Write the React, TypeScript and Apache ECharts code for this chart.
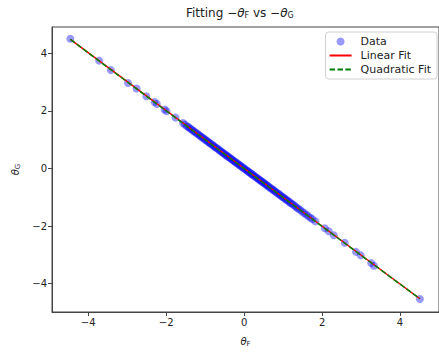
import React, { useEffect, useRef } from "react";
import * as echarts from "echarts";

const dataPoints: [number, number][] = [
  [-4.46, 4.51], [-3.72, 3.75], [-3.42, 3.42], [-2.98, 2.97], [-2.76, 2.78],
  [-2.51, 2.51], [-2.30, 2.31], [-2.24, 2.24], [-2.04, 2.05], [-1.99, 1.99],
  [-1.76, 1.77], [-1.57, 1.58],
  [-1.52, 1.53], [-1.47, 1.47], [-1.43, 1.44], [-1.40, 1.40], [-1.36, 1.37],
  [-1.33, 1.33], [-1.29, 1.30], [-1.26, 1.26], [-1.22, 1.23], [-1.19, 1.19],
  [-1.15, 1.16], [-1.12, 1.12], [-1.09, 1.09], [-1.05, 1.06], [-1.02, 1.02],
  [-0.99, 0.99], [-0.95, 0.96], [-0.92, 0.92], [-0.89, 0.89], [-0.86, 0.86],
  [-0.82, 0.83], [-0.79, 0.79], [-0.76, 0.76], [-0.73, 0.73], [-0.70, 0.70],
  [-0.66, 0.67], [-0.63, 0.63], [-0.60, 0.60], [-0.57, 0.57], [-0.54, 0.54],
  [-0.51, 0.51], [-0.48, 0.48], [-0.45, 0.45], [-0.42, 0.42], [-0.39, 0.39],
  [-0.36, 0.36], [-0.33, 0.33], [-0.30, 0.30], [-0.27, 0.27], [-0.24, 0.24],
  [-0.21, 0.21], [-0.18, 0.18], [-0.15, 0.15], [-0.12, 0.12], [-0.09, 0.09],
  [-0.06, 0.06], [-0.03, 0.03], [0.00, 0.00], [0.03, -0.03], [0.06, -0.06],
  [0.09, -0.09], [0.12, -0.12], [0.15, -0.15], [0.18, -0.18], [0.21, -0.21],
  [0.24, -0.24], [0.27, -0.27], [0.30, -0.30], [0.33, -0.33], [0.36, -0.36],
  [0.39, -0.39], [0.42, -0.42], [0.45, -0.45], [0.48, -0.48], [0.51, -0.51],
  [0.54, -0.54], [0.57, -0.57], [0.60, -0.60], [0.63, -0.63], [0.66, -0.67],
  [0.70, -0.70], [0.73, -0.73], [0.76, -0.76], [0.79, -0.79], [0.82, -0.83],
  [0.86, -0.86], [0.89, -0.89], [0.92, -0.92], [0.95, -0.96], [0.99, -0.99],
  [1.02, -1.02], [1.05, -1.06], [1.09, -1.09], [1.12, -1.12], [1.16, -1.16],
  [1.19, -1.20], [1.23, -1.23], [1.27, -1.27], [1.31, -1.31], [1.35, -1.36],
  [1.39, -1.40], [1.44, -1.44], [1.49, -1.50], [1.54, -1.55], [1.59, -1.60],
  [1.64, -1.65], [1.70, -1.71], [1.75, -1.76],
  [1.83, -1.84], [2.07, -2.08], [2.17, -2.18], [2.30, -2.32], [2.58, -2.58],
  [2.87, -2.90], [2.99, -3.02], [3.26, -3.29], [3.33, -3.38], [4.51, -4.54],
];

const linearFitX = [-4.46, 4.51];
const linearFitY = [4.49, -4.53];
const quadFitX = [-4.46, -3.0, -1.5, 0.0, 1.5, 3.0, 4.51];
const quadFitY = [4.49, 3.01, 1.5, -0.005, -1.51, -3.02, -4.53];

const xTicks = [-4, -2, 0, 2, 4];
const yTicks = [-4, -2, 0, 2, 4];

const FONT = "DejaVu Sans";
const fmt = (v: number) => (v < 0 ? "\u2212" + Math.abs(v) : String(v));

const mathRich = (size: number) => ({
  n: { fontSize: size, fontFamily: FONT, color: "#222", lineHeight: size + 4 },
  i: { fontSize: size, fontFamily: FONT, fontStyle: "italic", color: "#222", lineHeight: size + 4 },
  s: { fontSize: Math.round(size * 0.7), fontFamily: FONT, color: "#222", lineHeight: size + 4, padding: [Math.round(size * 0.45), 0, 0, 0] },
});

export default function App() {
  const ref = useRef<HTMLDivElement>(null);
  useEffect(() => {
    document.body.style.margin = "0";
    const chart = echarts.init(ref.current!, null, { renderer: "svg" });
    const axisCommon = {
      type: "value" as const,
      axisLine: { show: true, onZero: false, lineStyle: { color: "#444", width: 1 } },
      axisTick: { show: true, inside: false, length: 4, lineStyle: { color: "#444" } },
      splitLine: { show: false },
      axisLabel: { fontFamily: FONT, fontSize: 10, color: "#222", formatter: fmt, margin: 5 },
    };
    const hiddenSymbol = { color: "rgba(0,0,0,0)", borderWidth: 0, opacity: 0 };
    chart.setOption({
      animation: false,
      backgroundColor: "#fff",
      title: {
        text: "{n|Fitting \u2212}{i|\u03b8}{s|F}{n| vs \u2212}{i|\u03b8}{s|G}",
        left: 186,
        top: 5,
        padding: 0,
        textStyle: { fontSize: 12, fontWeight: "normal", rich: mathRich(12) },
      },
      legend: {
        orient: "vertical",
        right: 2,
        top: 32,
        padding: [4, 6, 4, 3],
        itemGap: 3,
        itemWidth: 22,
        itemHeight: 8,
        borderColor: "#d0d0d0",
        borderWidth: 1,
        borderRadius: 3,
        backgroundColor: "rgba(255,255,255,0.8)",
        textStyle: { fontFamily: FONT, fontSize: 11, color: "#222", padding: [0, 0, 0, 4] },
        data: [
          { name: "Data", icon: "circle" },
          { name: "Linear Fit", itemStyle: hiddenSymbol },
          { name: "Quadratic Fit", itemStyle: hiddenSymbol },
        ],
      },
      grid: {
        left: 52,
        right: -2,
        top: 27,
        bottom: 35,
        show: true,
        borderColor: "#444",
        borderWidth: 1,
        containLabel: false,
      },
      xAxis: {
        ...axisCommon,
        min: -4.93,
        max: 5.0,
        axisTick: { ...axisCommon.axisTick, customValues: xTicks },
        axisLabel: { ...axisCommon.axisLabel, customValues: xTicks },
        name: "{i|\u03b8}{s|F}",
        nameLocation: "middle",
        nameGap: 22,
        nameTextStyle: { rich: mathRich(10) },
      },
      yAxis: {
        ...axisCommon,
        min: -4.99,
        max: 4.92,
        axisTick: { ...axisCommon.axisTick, customValues: yTicks },
        axisLabel: { ...axisCommon.axisLabel, customValues: yTicks },
        name: "{i|\u03b8}{s|G}",
        nameLocation: "middle",
        nameRotate: 90,
        nameGap: 30,
        nameTextStyle: { rich: mathRich(10) },
      },
      series: [
        {
          name: "Data",
          type: "scatter",
          data: dataPoints,
          symbol: "circle",
          symbolSize: 8,
          itemStyle: { color: "rgba(0,0,255,0.5)" },
        },
        {
          name: "Linear Fit",
          type: "line",
          data: linearFitX.map((x, i) => [x, linearFitY[i]]),
          symbol: "none",
          lineStyle: { color: "#ff0000", width: 1.5 },
          itemStyle: { color: "#ff0000" },
        },
        {
          name: "Quadratic Fit",
          type: "line",
          data: quadFitX.map((x, i) => [x, quadFitY[i]]),
          symbol: "none",
          lineStyle: { color: "#008000", width: 1.5, type: [5.5, 2.4] },
          itemStyle: { color: "#008000" },
        },
      ],
    });
    return () => chart.dispose();
  }, []);
  return <div ref={ref} style={{ width: 439, height: 352 }} />;
}
